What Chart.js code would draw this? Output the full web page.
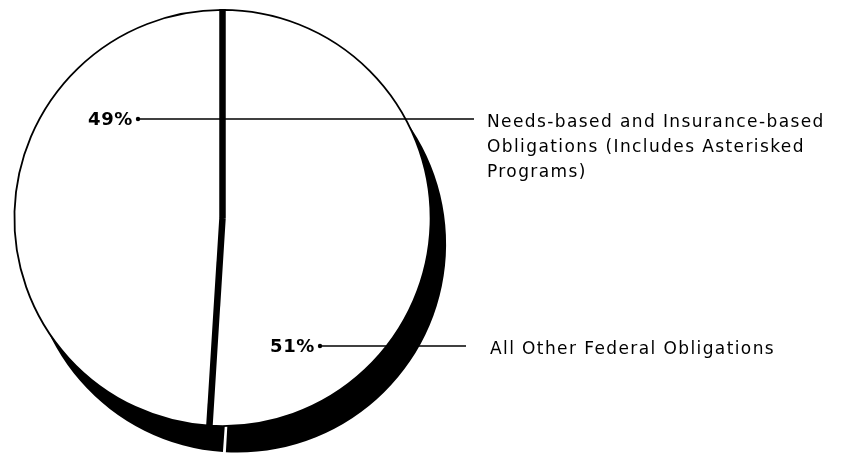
<!DOCTYPE html>
<html>
<head>
<meta charset="utf-8">
<script src="https://cdn.jsdelivr.net/npm/chart.js@4/dist/chart.umd.min.js"></script>
<style>
  html, body { margin: 0; padding: 0; background: #fff; }
  #wrap { width: 842px; height: 455px; position: relative; }
</style>
</head>
<body>
<div id="wrap"><canvas id="pie"></canvas></div>
<script>
// data, clockwise from 12 o'clock
const categories = ['All Other Federal Obligations', 'Needs-based and Insurance-based Obligations (Includes Asterisked Programs)'];
const shares = [51, 49];
const shareLabels = ['51%', '49%'];
const labelLines = [
  ['All Other Federal Obligations'],
  ['Needs-based and Insurance-based', 'Obligations (Includes Asterisked', 'Programs)']
];

// where each callout sits: pct right edge, line y, line end x, text x
const callouts = [
  { pctX: 315, y: 346, lineEnd: 466, textX: 490 },
  { pctX: 133, y: 119, lineEnd: 474, textX: 487 }
];

const FONT = '"DejaVu Sans", Arial, Helvetica, sans-serif';

// offset black copy of the pie, gives the 3d edge
const shadowPlugin = {
  id: 'shadow',
  beforeDatasetsDraw(chart) {
    const ctx = chart.ctx;
    const dx = 15, dy = 26, gap = 0.007;
    chart.getDatasetMeta(0).data.forEach(arc => {
      const { x, y, startAngle, endAngle, outerRadius } = arc.getProps(['x', 'y', 'startAngle', 'endAngle', 'outerRadius'], true);
      ctx.save();
      ctx.fillStyle = '#000';
      ctx.beginPath();
      ctx.moveTo(x + dx, y + dy);
      ctx.arc(x + dx, y + dy, outerRadius + 0.5, startAngle + gap, endAngle - gap);
      ctx.closePath();
      ctx.fill();
      ctx.restore();
    });
  }
};

// thick divider and the callouts
const calloutPlugin = {
  id: 'callouts',
  afterDatasetsDraw(chart) {
    const ctx = chart.ctx;
    const arcs = chart.getDatasetMeta(0).data;
    ctx.save();
    arcs.forEach(arc => {
      const { x, y, startAngle, outerRadius } = arc.getProps(['x', 'y', 'startAngle', 'outerRadius'], true);
      ctx.strokeStyle = '#000';
      ctx.lineWidth = 6.5;
      ctx.lineCap = 'butt';
      ctx.beginPath();
      ctx.moveTo(x, y);
      ctx.lineTo(x + Math.cos(startAngle) * (outerRadius + 1), y + Math.sin(startAngle) * (outerRadius + 1));
      ctx.stroke();
    });

    shares.forEach((v, i) => {
      const c = callouts[i];
      ctx.fillStyle = '#000';
      ctx.font = 'bold 18px ' + FONT;
      ctx.letterSpacing = '0.6px';
      ctx.textAlign = 'right';
      ctx.textBaseline = 'alphabetic';
      ctx.fillText(shareLabels[i], c.pctX, c.y + 6);

      ctx.beginPath();
      ctx.arc(c.pctX + 5, c.y, 2.2, 0, Math.PI * 2);
      ctx.fill();
      ctx.lineWidth = 1.6;
      ctx.beginPath();
      ctx.moveTo(c.pctX + 5, c.y);
      ctx.lineTo(c.lineEnd, c.y);
      ctx.stroke();

      ctx.font = '17px ' + FONT;
      ctx.letterSpacing = '1.4px';
      ctx.textAlign = 'left';
      labelLines[i].forEach((t, k) => {
        ctx.fillText(t, c.textX, c.y + 8 + k * 25);
      });
    });
    ctx.restore();
  }
};

new Chart(document.getElementById('pie'), {
  type: 'pie',
  data: {
    labels: categories,
    datasets: [{
      data: shares,
      backgroundColor: '#fff',
      borderColor: '#000',
      borderWidth: 1.8
    }]
  },
  options: {
    responsive: true,
    maintainAspectRatio: false,
    animation: false,
    layout: { padding: { left: 12, right: 409, top: 9, bottom: 28 } },
    plugins: {
      legend: { display: false },
      tooltip: { enabled: false }
    }
  },
  plugins: [shadowPlugin, calloutPlugin]
});
</script>
</body>
</html>
